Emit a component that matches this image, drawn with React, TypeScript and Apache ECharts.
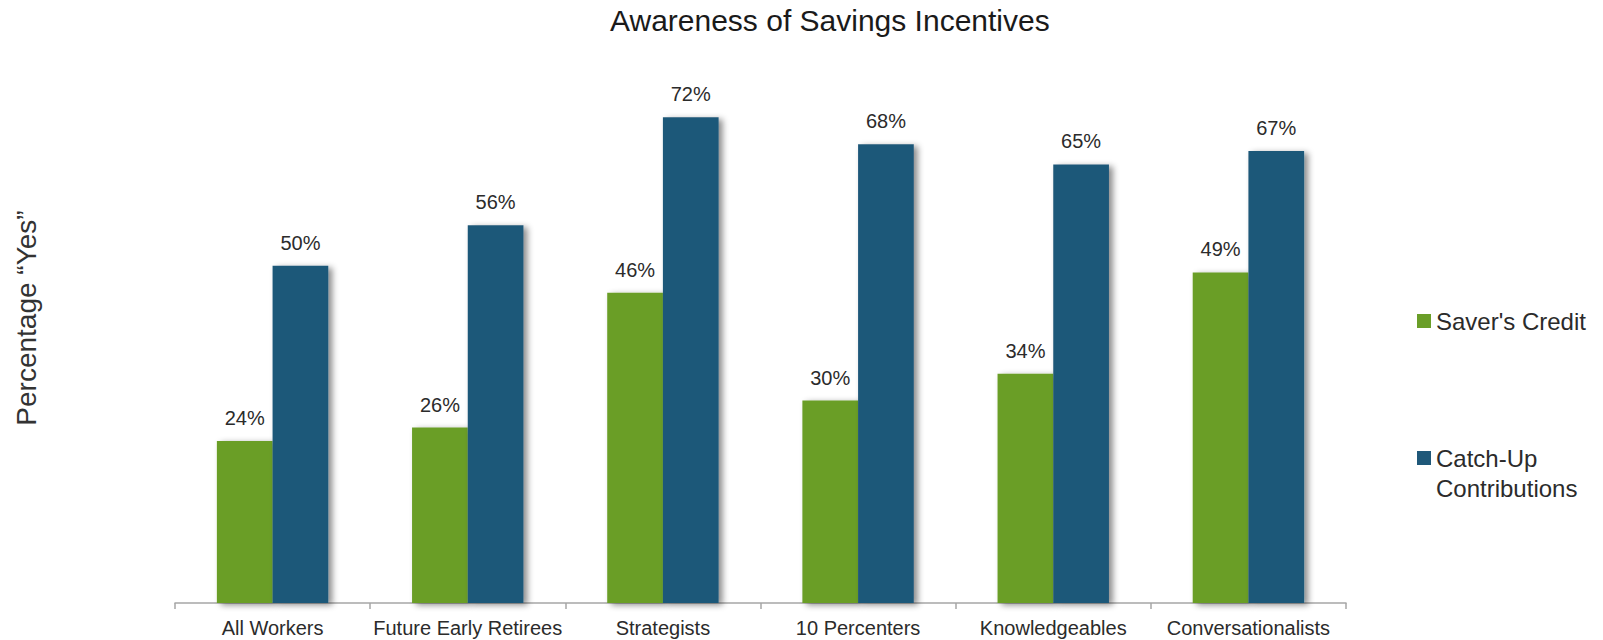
import React, { useEffect, useRef } from "react";
import * as echarts from "echarts";

const categories = [
  "All Workers",
  "Future Early Retirees",
  "Strategists",
  "10 Percenters",
  "Knowledgeables",
  "Conversationalists",
];
const saversCredit = [24, 26, 46, 30, 34, 49];
const catchUp = [50, 56, 72, 68, 65, 67];
const seriesNames = ["Saver's Credit", "Catch-Up Contributions"];

const FONT = "'Liberation Sans', Arial, sans-serif";
const GREEN = "#6a9e28";
const BLUE = "#1f5879";

export default function App() {
  const ref = useRef<HTMLDivElement>(null);
  useEffect(() => {
    document.body.style.margin = "0";
    const chart = echarts.init(ref.current!, null, { renderer: "svg" });
    const shadow = {
      shadowColor: "rgba(0,0,0,0.45)",
      shadowBlur: 6,
      shadowOffsetX: 4,
      shadowOffsetY: 2,
    };
    const label = {
      show: true,
      position: "top" as const,
      distance: 13,
      formatter: "{c}%",
      fontFamily: FONT,
      fontSize: 20,
      color: "#2b2b2b",
    };
    chart.setOption({
      animation: false,
      backgroundColor: "#ffffff",
      title: {
        text: "Awareness of Savings Incentives",
        left: 610,
        top: 5,
        padding: 0,
        textStyle: { fontFamily: FONT, fontSize: 30, fontWeight: "normal", color: "#1a1a1a" },
      },
      legend: [
        {
          data: [seriesNames[0]],
          orient: "vertical",
          left: 1417,
          top: 309,
          padding: 0,
          itemWidth: 14,
          itemHeight: 14,
          icon: "rect",
          textStyle: { fontFamily: FONT, fontSize: 24, lineHeight: 24, color: "#2b2b2b" },
        },
        {
          data: [seriesNames[1]],
          orient: "vertical",
          left: 1417,
          top: 413,
          padding: 0,
          itemWidth: 14,
          itemHeight: 14,
          icon: "rect",
          formatter: () => "\nCatch-Up\nContributions",
          textStyle: {
            fontFamily: FONT,
            fontSize: 24,
            lineHeight: 30,
            color: "#2b2b2b",
          },
        },
      ],
      grid: { left: 175, right: 257, top: 63.3, bottom: 37, containLabel: false },
      xAxis: {
        type: "category",
        data: categories,
        axisLine: { lineStyle: { color: "#a6a6a6", width: 1.5 } },
        axisTick: { show: true, length: 6, lineStyle: { color: "#a6a6a6", width: 1.5 } },
        axisLabel: { fontFamily: FONT, fontSize: 20, color: "#2b2b2b", margin: 15, interval: 0 },
      },
      yAxis: {
        type: "value",
        min: 0,
        max: 80,
        axisLine: { show: false },
        axisTick: { show: false },
        axisLabel: { show: false },
        splitLine: { show: false },
      },
      graphic: [
        {
          type: "text",
          x: 26,
          y: 318,
          rotation: Math.PI / 2,
          style: {
            text: "Percentage \u201cYes\u201d",
            fontFamily: FONT,
            fontSize: 28,
            fill: "#333333",
            align: "center",
            verticalAlign: "middle",
          },
        },
      ],
      series: [
        {
          name: seriesNames[0],
          type: "bar",
          data: saversCredit,
          barWidth: 55.7,
          barGap: "0%",
          itemStyle: { color: GREEN, ...shadow },
          label,
        },
        {
          name: seriesNames[1],
          type: "bar",
          data: catchUp,
          barWidth: 55.7,
          barGap: "0%",
          itemStyle: { color: BLUE, ...shadow },
          label,
        },
      ],
    });
    return () => chart.dispose();
  }, []);
  return <div ref={ref} style={{ width: 1603, height: 640 }} />;
}
